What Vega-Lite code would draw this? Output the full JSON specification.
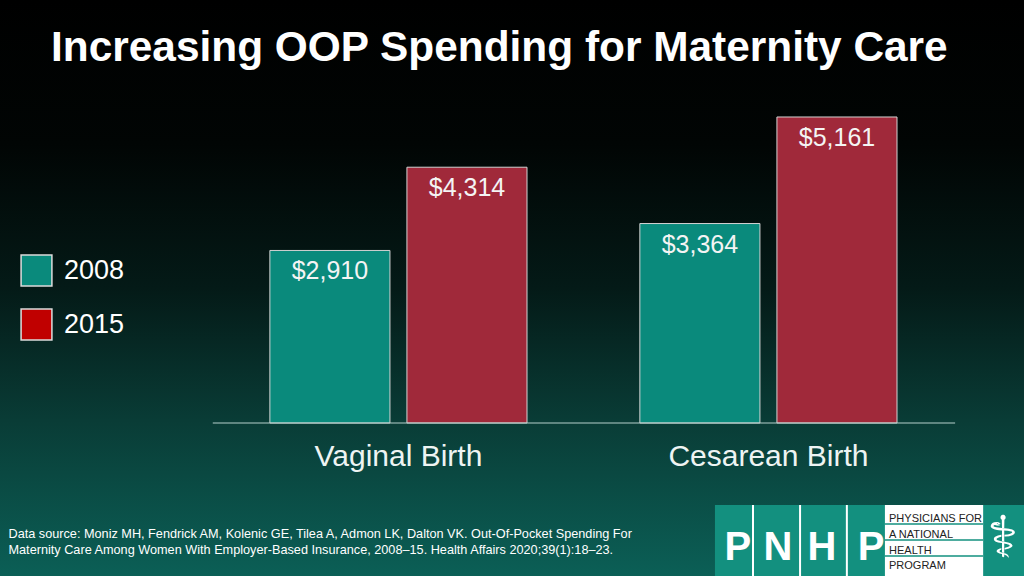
{
  "$schema": "https://vega.github.io/schema/vega-lite/v6.json",
  "width": 1024,
  "height": 576,
  "autosize": {"type": "none"},
  "padding": 0,
  "background": "#021210",
  "config": {
    "view": {
      "stroke": null,
      "fill": {
        "gradient": "linear", "x1": 0, "y1": 0, "x2": 0, "y2": 1,
        "stops": [
          {"offset": 0, "color": "#000000"},
          {"offset": 0.25, "color": "#010504"},
          {"offset": 0.5, "color": "#041a17"},
          {"offset": 0.73, "color": "#093c36"},
          {"offset": 0.82, "color": "#0a4841"},
          {"offset": 1, "color": "#0b5f56"}
        ]
      }
    },
    "font": "Liberation Sans"
  },
  "title": {
    "text": "Increasing OOP Spending for Maternity Care",
    "anchor": "start",
    "frame": "group",
    "orient": "top",
    "offset": -103,
    "baseline": "alphabetic",
    "dx": 51,
    "fontSize": 42.4,
    "fontWeight": "bold",
    "color": "#ffffff",
    "font": "Liberation Sans"
  },
  "layer": [
    {
      "data": {"values": [
        {"birth": "Vaginal Birth", "year": "2008", "cost": 2910},
        {"birth": "Vaginal Birth", "year": "2015", "cost": 4314},
        {"birth": "Cesarean Birth", "year": "2008", "cost": 3364},
        {"birth": "Cesarean Birth", "year": "2015", "cost": 5161}
      ]},
      "layer": [
        {
          "mark": {"type": "bar", "stroke": "#d4d4d4", "strokeWidth": 1},
          "encoding": {
            "color": {
              "field": "year", "type": "nominal",
              "scale": {"domain": ["2008", "2015"], "range": ["#0a8a7c", "#a0293a"]},
              "legend": null
            }
          }
        },
        {
          "mark": {"type": "square", "size": 0},
          "encoding": {
            "color": {
              "field": "year", "type": "nominal",
              "scale": {"domain": ["2008", "2015"], "range": ["#0a8a7c", "#c00000"]},
              "legend": {
                "orient": "none", "legendX": 20, "legendY": 254,
                "title": null, "padding": 0,
                "symbolType": "square", "symbolSize": 950,
                "symbolStrokeColor": "#dddddd", "symbolStrokeWidth": 1.5,
                "symbolOpacity": 1,
                "labelFontSize": 27, "labelColor": "#ffffff", "labelOffset": 11,
                "labelFont": "Liberation Sans",
                "rowPadding": 17,
                "encode": {"symbols": {"update": {
                  "stroke": {"value": "#dddddd"},
                  "strokeWidth": {"value": 1.5}
                }}}
              }
            }
          }
        },
        {
          "mark": {"type": "text", "baseline": "middle", "dy": 21, "fontSize": 25, "color": "#f4f4f4", "font": "Liberation Sans"},
          "encoding": {
            "text": {"field": "cost", "type": "quantitative", "format": "$,.0f"}
          }
        }
      ],
      "resolve": {"scale": {"color": "independent"}, "legend": {"color": "independent"}},
      "encoding": {
        "x": {
          "field": "birth", "type": "nominal",
          "sort": ["Vaginal Birth", "Cesarean Birth"],
          "scale": {"domain": ["Vaginal Birth", "Cesarean Birth"], "paddingInner": 0.305, "paddingOuter": 0.5363, "align": 0.68},
          "axis": {
            "orient": "bottom", "offset": -153, "domain": false, "ticks": false, "grid": false,
            "labelAngle": 0, "labelFontSize": 30, "labelColor": "#eef4f3", "labelPadding": 18,
            "labelFont": "Liberation Sans", "labelLimit": 500,
            "title": [
              "Data source: Moniz MH, Fendrick AM, Kolenic GE, Tilea A, Admon LK, Dalton VK. Out-Of-Pocket Spending For",
              "Maternity Care Among Women With Employer-Based Insurance, 2008–15. Health Affairs 2020;39(1):18–23."
            ],
            "titleAnchor": "start", "titleAlign": "left", "titleX": 8, "titleY": 104,
            "titleBaseline": "top", "titleFontSize": 12.7, "titleFontWeight": "normal",
            "titleColor": "#ffffff", "titleLineHeight": 16, "titleFont": "Liberation Sans"
          }
        },
        "xOffset": {"field": "year", "type": "nominal", "scale": {"paddingInner": 0.124}},
        "y": {
          "field": "cost", "type": "quantitative",
          "scale": {"domain": [-2580, 7134], "nice": false, "zero": false},
          "axis": null
        }
      }
    },
    {
      "data": {"values": [{}]},
      "mark": {"type": "rule", "color": "#b6cfcb", "strokeWidth": 1.2},
      "encoding": {
        "x": {"datum": "Vaginal Birth", "type": "nominal", "bandPosition": -0.222},
        "x2": {"datum": "Cesarean Birth", "bandPosition": 1.226},
        "y": {"datum": 0, "type": "quantitative"}
      }
    },
    {
      "data": {"values": [{}]},
      "mark": {"type": "rect", "fill": "#13907f"},
      "encoding": {
        "x": {"datum": "Cesarean Birth", "type": "nominal", "bandPosition": 0.292},
        "x2": {"datum": "Cesarean Birth", "bandPosition": 1.5},
        "y": {"datum": -1383, "type": "quantitative"},
        "y2": {"datum": -2580}
      }
    },
    {
      "data": {"values": [{}]},
      "mark": {"type": "rect", "fill": "#ffffff"},
      "encoding": {
        "x": {"datum": "Cesarean Birth", "type": "nominal", "bandPosition": 0.953},
        "x2": {"datum": "Cesarean Birth", "bandPosition": 1.335},
        "y": {"datum": -1383, "type": "quantitative"},
        "y2": {"datum": -2580}
      }
    },
    {
      "data": {"values": [{}]},
      "mark": {"type": "rule", "color": "#ffffff", "strokeWidth": 2},
      "encoding": {
        "x": {"datum": "Cesarean Birth", "type": "nominal", "bandPosition": 0.44},
        "y": {"datum": -1383, "type": "quantitative"},
        "y2": {"datum": -2580}
      }
    },
    {
      "data": {"values": [{}]},
      "mark": {"type": "rule", "color": "#ffffff", "strokeWidth": 2},
      "encoding": {
        "x": {"datum": "Cesarean Birth", "type": "nominal", "bandPosition": 0.623},
        "y": {"datum": -1383, "type": "quantitative"},
        "y2": {"datum": -2580}
      }
    },
    {
      "data": {"values": [{}]},
      "mark": {"type": "rule", "color": "#ffffff", "strokeWidth": 2},
      "encoding": {
        "x": {"datum": "Cesarean Birth", "type": "nominal", "bandPosition": 0.805},
        "y": {"datum": -1383, "type": "quantitative"},
        "y2": {"datum": -2580}
      }
    },
    {
      "data": {"values": [{}]},
      "mark": {"type": "rule", "color": "#13907f", "strokeWidth": 1.5},
      "encoding": {
        "x": {"datum": "Cesarean Birth", "type": "nominal", "bandPosition": 0.953},
        "x2": {"datum": "Cesarean Birth", "bandPosition": 1.335},
        "y": {"datum": -1704, "type": "quantitative"}
      }
    },
    {
      "data": {"values": [{}]},
      "mark": {"type": "rule", "color": "#13907f", "strokeWidth": 1.5},
      "encoding": {
        "x": {"datum": "Cesarean Birth", "type": "nominal", "bandPosition": 0.953},
        "x2": {"datum": "Cesarean Birth", "bandPosition": 1.335},
        "y": {"datum": -1973, "type": "quantitative"}
      }
    },
    {
      "data": {"values": [{}]},
      "mark": {"type": "rule", "color": "#13907f", "strokeWidth": 1.5},
      "encoding": {
        "x": {"datum": "Cesarean Birth", "type": "nominal", "bandPosition": 0.953},
        "x2": {"datum": "Cesarean Birth", "bandPosition": 1.335},
        "y": {"datum": -2243, "type": "quantitative"}
      }
    },
    {
      "data": {"values": [{}]},
      "mark": {"type": "text", "text": "P", "fontSize": 40, "fontWeight": "bold", "color": "#ffffff", "baseline": "alphabetic", "font": "Liberation Sans"},
      "encoding": {
        "x": {"datum": "Cesarean Birth", "type": "nominal", "bandPosition": 0.381},
        "y": {"datum": -2311, "type": "quantitative"}
      }
    },
    {
      "data": {"values": [{}]},
      "mark": {"type": "text", "text": "N", "fontSize": 40, "fontWeight": "bold", "color": "#ffffff", "baseline": "alphabetic", "font": "Liberation Sans"},
      "encoding": {
        "x": {"datum": "Cesarean Birth", "type": "nominal", "bandPosition": 0.537},
        "y": {"datum": -2311, "type": "quantitative"}
      }
    },
    {
      "data": {"values": [{}]},
      "mark": {"type": "text", "text": "H", "fontSize": 40, "fontWeight": "bold", "color": "#ffffff", "baseline": "alphabetic", "font": "Liberation Sans"},
      "encoding": {
        "x": {"datum": "Cesarean Birth", "type": "nominal", "bandPosition": 0.708},
        "y": {"datum": -2311, "type": "quantitative"}
      }
    },
    {
      "data": {"values": [{}]},
      "mark": {"type": "text", "text": "P", "fontSize": 40, "fontWeight": "bold", "color": "#ffffff", "baseline": "alphabetic", "font": "Liberation Sans"},
      "encoding": {
        "x": {"datum": "Cesarean Birth", "type": "nominal", "bandPosition": 0.899},
        "y": {"datum": -2311, "type": "quantitative"}
      }
    },
    {
      "data": {"values": [{}]},
      "mark": {"type": "text", "text": ["PHYSICIANS FOR", "A NATIONAL", "HEALTH", "PROGRAM"], "lineHeight": 15.8, "fontSize": 11, "color": "#222222", "align": "left", "baseline": "alphabetic", "font": "Liberation Sans"},
      "encoding": {
        "x": {"datum": "Cesarean Birth", "type": "nominal", "bandPosition": 0.969},
        "y": {"datum": -1670, "type": "quantitative"}
      }
    },
    {
      "data": {"values": [{}]},
      "mark": {"type": "text", "text": "⚕", "fontSize": 58, "color": "#ffffff", "baseline": "middle", "font": "DejaVu Sans"},
      "encoding": {
        "x": {"datum": "Cesarean Birth", "type": "nominal", "bandPosition": 1.412},
        "y": {"datum": -1973, "type": "quantitative"}
      }
    }
  ]
}
